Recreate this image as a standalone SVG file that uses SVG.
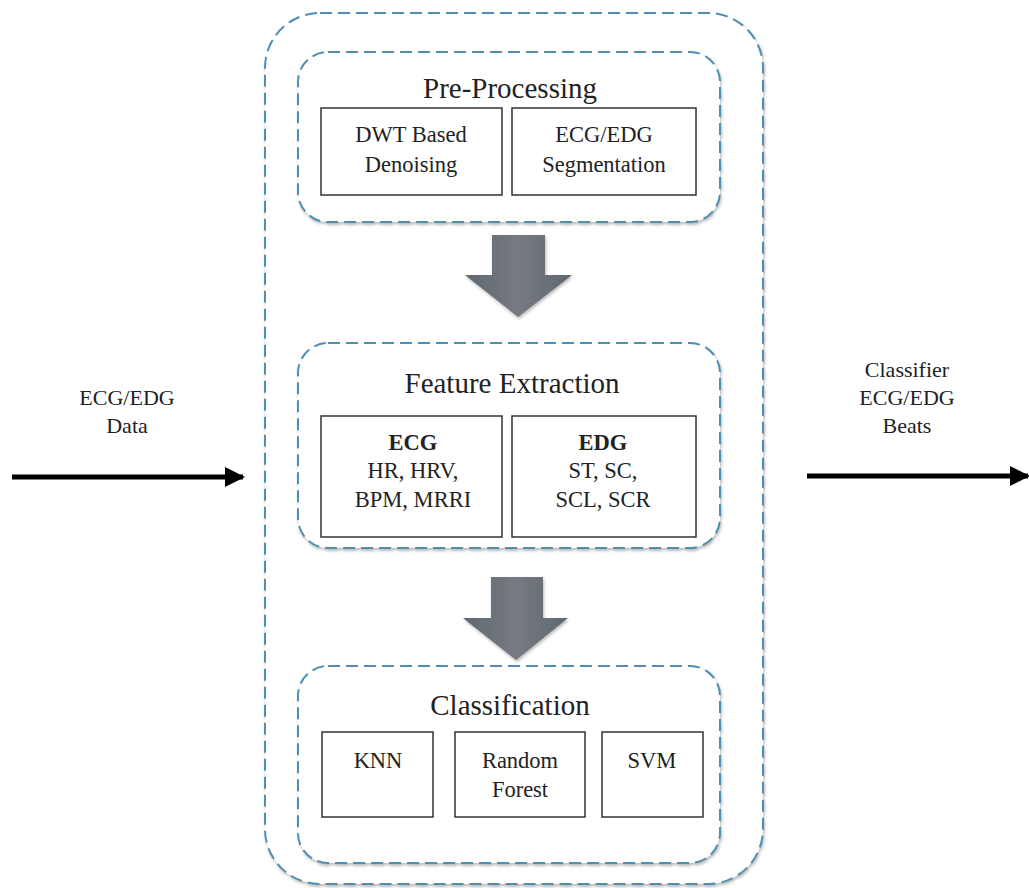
<svg xmlns="http://www.w3.org/2000/svg" width="1029" height="888" viewBox="0 0 1029 888">
<style>
.dash{fill:#fff;stroke:#4f8fb3;stroke-width:2;stroke-dasharray:12 6;filter:url(#sh)}
.outer{fill:#fff;stroke:#4f8fb3;stroke-width:2;stroke-dasharray:12 6;filter:url(#sh)}
.box{fill:#fff;stroke:#333;stroke-width:1.5}
.t{font-family:"Liberation Serif","Times New Roman",serif;fill:#222;text-anchor:middle}
.title{font-size:29px}
.lbl{font-size:22.5px}
.side{font-size:22px}
.bold{font-weight:bold}
</style>
<defs>
<filter id="sh" x="-5%" y="-5%" width="110%" height="110%">
<feDropShadow dx="1" dy="2" stdDeviation="1.5" flood-color="#888" flood-opacity="0.6"/>
</filter>
<linearGradient id="ag" x1="0" y1="0" x2="1" y2="0">
<stop offset="0" stop-color="#5d6872"/>
<stop offset="0.5" stop-color="#777a80"/>
<stop offset="1" stop-color="#5d6872"/>
</linearGradient>
<marker id="ah" viewBox="0 0 10 10" refX="9" refY="5" markerWidth="4" markerHeight="4.4" orient="auto">
<path d="M0,0 L10,5 L0,10 Z" fill="#000"/>
</marker>
</defs>
<rect width="1029" height="888" fill="#fff"/>

<g id="outer">
<rect class="outer" x="265" y="13" width="498" height="871" rx="55" ry="55"/>
</g>

<g id="preprocessing">
<rect class="dash" x="298" y="52" width="422" height="170" rx="30" ry="30"/>
<text class="t title" x="510" y="98">Pre-Processing</text>
<rect class="box" x="321" y="108" width="181" height="87"/>
<text class="t lbl" x="411" y="142">DWT Based</text>
<text class="t lbl" x="411" y="172">Denoising</text>
<rect class="box" x="512" y="108" width="184" height="87"/>
<text class="t lbl" x="604" y="142">ECG/EDG</text>
<text class="t lbl" x="604" y="172">Segmentation</text>
</g>

<g id="features">
<rect class="dash" x="298" y="343" width="422" height="205" rx="30" ry="30"/>
<text class="t title" x="512" y="393">Feature Extraction</text>
<rect class="box" x="321" y="416" width="181" height="121"/>
<text class="t lbl bold" x="413" y="450">ECG</text>
<text class="t lbl" x="413" y="478">HR, HRV,</text>
<text class="t lbl" x="413" y="507">BPM, MRRI</text>
<rect class="box" x="512" y="416" width="184" height="121"/>
<text class="t lbl bold" x="603" y="450">EDG</text>
<text class="t lbl" x="603" y="478">ST, SC,</text>
<text class="t lbl" x="603" y="507">SCL, SCR</text>
</g>

<g id="classification">
<rect class="dash" x="298" y="666" width="422" height="197" rx="30" ry="30"/>
<text class="t title" x="510" y="715">Classification</text>
<rect class="box" x="322" y="732" width="111" height="85"/>
<text class="t lbl" x="378" y="768">KNN</text>
<rect class="box" x="455" y="732" width="130" height="85"/>
<text class="t lbl" x="520" y="768">Random</text>
<text class="t lbl" x="520" y="797">Forest</text>
<rect class="box" x="602" y="732" width="101" height="85"/>
<text class="t lbl" x="652" y="768">SVM</text>
</g>

<g id="input-label">
<text class="t side" x="127" y="405">ECG/EDG</text>
<text class="t side" x="127" y="433">Data</text>
</g>
<g id="output-label">
<text class="t side" x="907" y="377">Classifier</text>
<text class="t side" x="907" y="405">ECG/EDG</text>
<text class="t side" x="907" y="433">Beats</text>
</g>

<g id="connectors">
<path d="M492,235 H545 V275 H572 L518,317 L465,275 H492 Z" fill="url(#ag)" filter="url(#sh)"/>
<path d="M491,577 H543 V618 H568 L516,660 L463,618 H491 Z" fill="url(#ag)" filter="url(#sh)"/>
<line x1="12" y1="477" x2="243" y2="477" stroke="#000" stroke-width="5" marker-end="url(#ah)"/>
<line x1="807" y1="476" x2="1028" y2="476" stroke="#000" stroke-width="5" marker-end="url(#ah)"/>
</g>
</svg>
